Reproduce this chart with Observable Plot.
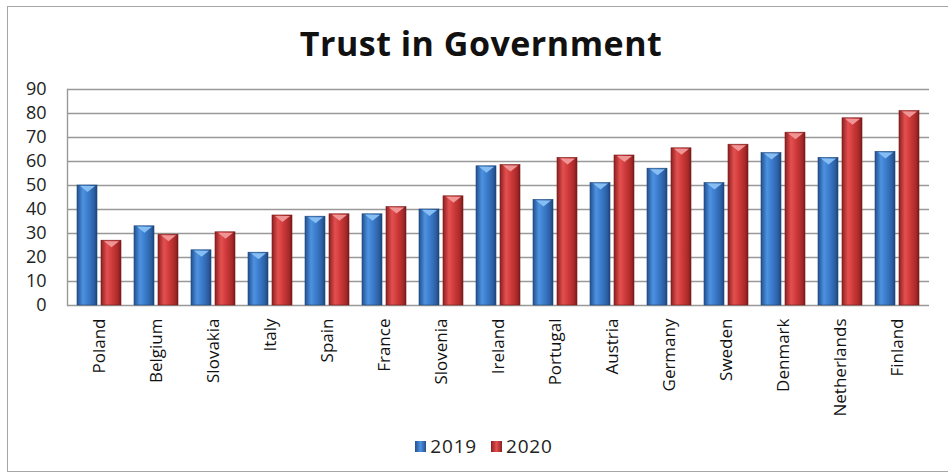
<!DOCTYPE html>
<html>
<head>
<meta charset="utf-8">
<script src="https://cdn.jsdelivr.net/npm/d3@7"></script>
<script src="https://cdn.jsdelivr.net/npm/@observablehq/plot@0.6"></script>
<style>
  html, body { margin: 0; padding: 0; background: #fff; }
  #wrap { position: relative; width: 948px; height: 476px; overflow: hidden; font-family: "Open Sans", sans-serif; }
  #border { position: absolute; left: 7px; top: 6px; width: 950px; height: 466px; border: 1.5px solid #a6a6a6; box-sizing: border-box; }
  #title { position: absolute; left: 7px; width: 948px; top: 26px; text-align: center; font-size: 34px; font-weight: 700; line-height: 1; color: #111; letter-spacing: 0.5px; }
  #chart { position: absolute; left: 0; top: 70px; }
  #legend { position: absolute; left: 10px; width: 948px; top: 437px; display: flex; justify-content: center; align-items: center; font-size: 19px; color: #222; line-height: 1; letter-spacing: 0.8px; }
  .sw { display: inline-block; width: 11px; height: 11px; margin-right: 4px; }
  .item { display: inline-flex; align-items: center; margin: 0 7px; }
</style>
</head>
<body>
<div id="wrap">
  <div id="border"></div>
  <div id="title">Trust in Government</div>
  <div id="chart"></div>
  <div id="legend"></div>
</div>
<script>
const countries = ["Poland", "Belgium", "Slovakia", "Italy", "Spain", "France", "Slovenia", "Ireland", "Portugal", "Austria", "Germany", "Sweden", "Denmark", "Netherlands", "Finland"];
const values2019 = [50, 33, 23, 22, 37, 38, 40, 58, 44, 51, 57, 51, 63.5, 61.5, 64];
const values2020 = [27, 29.5, 30.5, 37.5, 38, 41, 45.5, 58.5, 61.5, 62.5, 65.5, 67, 72, 78, 81];
const yTicks = [0, 10, 20, 30, 40, 50, 60, 70, 80, 90];
const years = ["2019", "2020"];

const data2019 = countries.map((c, i) => ({country: c, value: values2019[i]}));
const data2020 = countries.map((c, i) => ({country: c, value: values2020[i]}));

// flat downward-pointing highlight at the top of each bar (bevel look)
const flatTri = {
  draw(context) {
    context.moveTo(-7.5, -3);
    context.lineTo(7.5, -3);
    context.lineTo(0, 3);
    context.closePath();
  }
};

const svg = Plot.plot({
  width: 948,
  height: 350,
  marginLeft: 67,
  marginRight: 19,
  marginTop: 19,
  marginBottom: 115,
  style: {fontFamily: "Open Sans, sans-serif", background: "transparent", overflow: "visible"},
  x: {domain: countries, paddingInner: 0.233, paddingOuter: 0.13, label: null},
  y: {domain: [0, 90], label: null},
  marks: [
    Plot.gridY(yTicks, {stroke: "#999", strokeOpacity: 1, strokeWidth: 1.4}),
    Plot.frame({anchor: "left", stroke: "#999", strokeWidth: 1.4}),
    Plot.barY(data2019, {x: "country", y: "value", insetRight: 24, fill: "url(#gBlue)", stroke: "#1d4678", strokeWidth: 0.6}),
    Plot.barY(data2020, {x: "country", y: "value", insetLeft: 24, fill: "url(#gRed)", stroke: "#7a1a1a", strokeWidth: 0.6}),
    Plot.dot(data2019, {x: "country", y: "value", dx: -12, dy: 3.5, symbol: flatTri, fill: "#86bdf2", stroke: "none"}),
    Plot.dot(data2020, {x: "country", y: "value", dx: 12, dy: 3.5, symbol: flatTri, fill: "#f09595", stroke: "none"}),
    Plot.axisY(yTicks, {tickSize: 0, tickPadding: 21, fontSize: 18, fill: "#222", label: null, style: {letterSpacing: "0.8px"}}),
    Plot.axisX({tickSize: 0, tickPadding: 13, tickRotate: -90, fontSize: 17, fill: "#111", label: null, style: {letterSpacing: "0.3px"}})
  ]
});

const defs = d3.select(svg).insert("defs", ":first-child");
function grad(id, stops) {
  const g = defs.append("linearGradient").attr("id", id).attr("x1", 0).attr("x2", 1).attr("y1", 0).attr("y2", 0);
  stops.forEach(([o, c]) => g.append("stop").attr("offset", o).attr("stop-color", c));
}
grad("gBlue", [[0, "#23508f"], [0.3, "#4d92e0"], [0.55, "#3b7ccc"], [0.85, "#2c5fa3"], [1, "#1c447c"]]);
grad("gRed", [[0, "#8c2020"], [0.3, "#e45050"], [0.55, "#d03a3a"], [0.85, "#a82a2a"], [1, "#7a1a1a"]]);

document.getElementById("chart").appendChild(svg);

const legendColors = {"2019": "linear-gradient(90deg,#23508f,#4d92e0,#23508f)", "2020": "linear-gradient(90deg,#8c2020,#e45050,#8c2020)"};
const legend = document.getElementById("legend");
years.forEach(y => {
  const item = document.createElement("span");
  item.className = "item";
  item.innerHTML = `<span class="sw" style="background:${legendColors[y]}"></span>${y}`;
  legend.appendChild(item);
});
</script>
</body>
</html>
